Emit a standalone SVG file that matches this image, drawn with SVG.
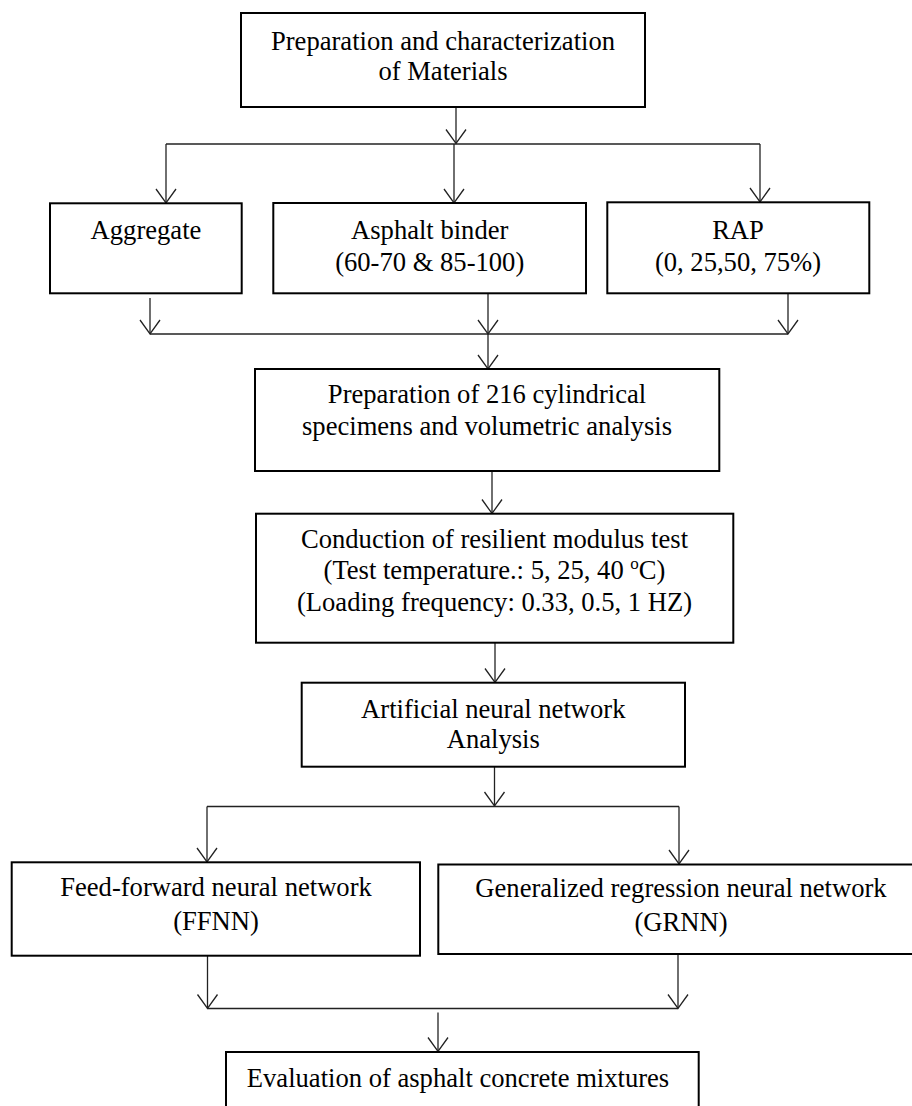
<svg xmlns="http://www.w3.org/2000/svg" width="912" height="1106" viewBox="0 0 912 1106">
  <style>
    .box { fill: #ffffff; stroke: #000000; stroke-width: 2; }
    .lbl { font-family: "Liberation Serif", "Times New Roman", serif; font-size: 26.6px; fill: #000000; text-anchor: middle; }
    .con { fill: none; stroke: #222222; stroke-width: 1.3; }
    .arr { marker-end: url(#vhead); }
  </style>
  <defs>
    <marker id="vhead" markerUnits="userSpaceOnUse" markerWidth="20" markerHeight="20" refX="0" refY="0" orient="auto" overflow="visible">
      <path d="M-14,-10 L0,0 L-14,10" fill="none" stroke="#222222" stroke-width="1.3"/>
    </marker>
  </defs>
  <rect width="912" height="1106" fill="#ffffff"/>

  <g id="connectors">
    <!-- top box to split -->
    <line class="con arr" x1="456" y1="107" x2="456" y2="143.5"/>
    <line class="con" x1="166" y1="144" x2="760" y2="144"/>
    <line class="con arr" x1="166" y1="144" x2="166" y2="203"/>
    <line class="con arr" x1="454" y1="144" x2="454" y2="203"/>
    <line class="con arr" x1="760" y1="144" x2="760" y2="202"/>
    <!-- row 2 to merge -->
    <line class="con arr" x1="150" y1="298" x2="150" y2="334"/>
    <line class="con arr" x1="488" y1="293" x2="488" y2="334"/>
    <line class="con arr" x1="788" y1="293" x2="788" y2="334"/>
    <line class="con" x1="150" y1="334" x2="788" y2="334"/>
    <line class="con arr" x1="488" y1="334" x2="488" y2="369"/>
    <!-- prep to conduction -->
    <line class="con arr" x1="492" y1="471" x2="492" y2="513.5"/>
    <!-- conduction to ANN -->
    <line class="con arr" x1="495" y1="642.5" x2="495" y2="682.5"/>
    <!-- ANN to split -->
    <line class="con arr" x1="494.5" y1="767" x2="494.5" y2="806"/>
    <line class="con" x1="207" y1="806.5" x2="679" y2="806.5"/>
    <line class="con arr" x1="207" y1="806.5" x2="207" y2="862"/>
    <line class="con arr" x1="679" y1="806.5" x2="679" y2="864"/>
    <!-- bottom merge -->
    <line class="con arr" x1="207.5" y1="953" x2="207.5" y2="1008.5"/>
    <line class="con arr" x1="678" y1="954" x2="678" y2="1008.5"/>
    <line class="con" x1="207.5" y1="1008.5" x2="678" y2="1008.5"/>
    <line class="con arr" x1="438" y1="1012.5" x2="438" y2="1051.5"/>
  </g>

  <g id="materials">
    <rect class="box" x="241" y="13" width="404" height="94"/>
    <text class="lbl" x="443" y="50">Preparation and characterization</text>
    <text class="lbl" x="443" y="80">of Materials</text>
  </g>

  <g id="aggregate">
    <rect class="box" x="50" y="203.3" width="191.7" height="90"/>
    <text class="lbl" x="146" y="239">Aggregate</text>
  </g>

  <g id="binder">
    <rect class="box" x="273.3" y="203" width="312.7" height="90.3"/>
    <text class="lbl" x="429.7" y="239">Asphalt binder</text>
    <text class="lbl" x="429.7" y="271">(60-70 &amp; 85-100)</text>
  </g>

  <g id="rap">
    <rect class="box" x="607.3" y="202.3" width="262" height="91"/>
    <text class="lbl" x="738" y="239">RAP</text>
    <text class="lbl" x="738" y="271">(0, 25,50, 75%)</text>
  </g>

  <g id="specimens">
    <rect class="box" x="255" y="369" width="464.3" height="102"/>
    <text class="lbl" x="487" y="403">Preparation of 216 cylindrical</text>
    <text class="lbl" x="487" y="435">specimens and volumetric analysis</text>
  </g>

  <g id="resilient">
    <rect class="box" x="256" y="513.7" width="477.3" height="129"/>
    <text class="lbl" x="494.5" y="548">Conduction of resilient modulus test</text>
    <text class="lbl" x="494.5" y="579">(Test temperature.: 5, 25, 40 <tspan font-size="17" dy="-10">o</tspan><tspan dy="10">C)</tspan></text>
    <text class="lbl" x="494.5" y="611">(Loading frequency: 0.33, 0.5, 1 HZ)</text>
  </g>

  <g id="ann">
    <rect class="box" x="301.7" y="682.7" width="383.3" height="84"/>
    <text class="lbl" x="493.3" y="718">Artificial neural network</text>
    <text class="lbl" x="493.3" y="748">Analysis</text>
  </g>

  <g id="ffnn">
    <rect class="box" x="11.7" y="862.3" width="408.3" height="93.4"/>
    <text class="lbl" x="216" y="896">Feed-forward neural network</text>
    <text class="lbl" x="216" y="930">(FFNN)</text>
  </g>

  <g id="grnn">
    <rect class="box" x="438.3" y="864.5" width="490" height="89.5"/>
    <text class="lbl" x="681" y="897">Generalized regression neural network</text>
    <text class="lbl" x="681" y="931">(GRNN)</text>
  </g>

  <g id="evaluation">
    <rect class="box" x="226" y="1052" width="472.7" height="80"/>
    <text class="lbl" x="458" y="1087">Evaluation of asphalt concrete mixtures</text>
  </g>
</svg>
